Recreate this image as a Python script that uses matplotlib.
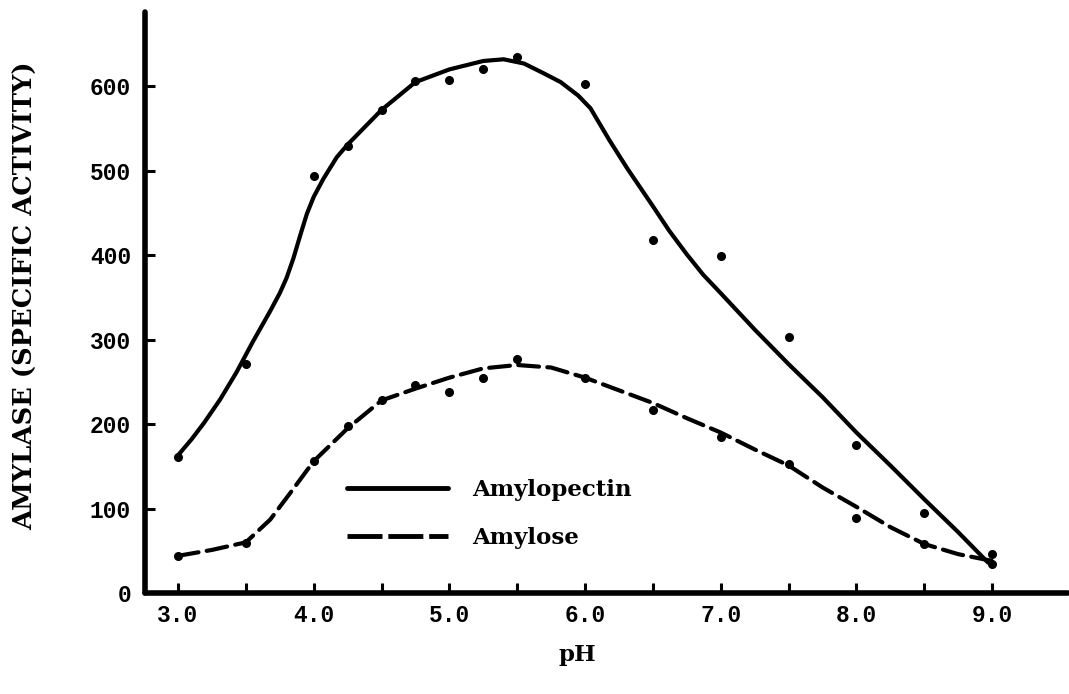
import matplotlib
matplotlib.use('Agg')
import matplotlib.pyplot as plt
from matplotlib.lines import Line2D

# measured points
ph_pts = [3.0, 3.5, 4.0, 4.25, 4.5, 4.75, 5.0, 5.25, 5.5, 6.0, 6.5, 7.0, 7.5, 8.0, 8.5, 9.0]
amylopectin_pts = [161, 271, 494, 529, 572, 606, 608, 620, 635, 603, 418, 399, 303, 175, 95, 46]
amylose_pts = [44, 59, 156, 198, 228, 246, 238, 255, 277, 255, 217, 185, 153, 89, 58, 34]

# hand drawn curves
ph_curve1 = [3.0, 3.1, 3.19, 3.31, 3.43, 3.55, 3.68, 3.75, 3.8, 3.85, 3.9, 3.95, 4.0, 4.07, 4.17,
             4.25, 4.5, 4.75, 5.0, 5.25, 5.4, 5.55, 5.7, 5.82, 5.95, 6.04, 6.18, 6.31, 6.5, 6.62,
             6.75, 6.87, 7.0, 7.25, 7.5, 7.75, 8.0, 8.25, 8.5, 8.75, 8.97]
amylopectin_curve = [163, 182, 201, 229, 261, 297, 334, 355, 373, 396, 423, 449, 469, 490, 516,
                     531, 572, 605, 620, 630, 632, 627, 615, 605, 589, 574, 536, 503, 458, 429,
                     401, 377, 355, 312, 271, 232, 190, 151, 111, 72, 36]

ph_curve2 = [3.0, 3.25, 3.5, 3.58, 3.68, 3.83, 4.0, 4.25, 4.5, 4.75, 5.0, 5.25, 5.5, 5.75, 6.0,
             6.25, 6.5, 6.75, 7.0, 7.25, 7.5, 7.75, 8.0, 8.25, 8.5, 8.75, 9.0]
amylose_curve = [44, 51, 60, 72, 87, 119, 156, 195, 228, 242, 255, 266, 270, 267, 255,
                 240, 225, 207, 190, 170, 151, 125, 102, 78, 58, 46, 38]

x_ticks = [3.0, 3.5, 4.0, 4.5, 5.0, 5.5, 6.0, 6.5, 7.0, 7.5, 8.0, 8.5, 9.0]
x_labels = ['3.0', '', '4.0', '', '5.0', '', '6.0', '', '7.0', '', '8.0', '', '9.0']
y_ticks = [0, 100, 200, 300, 400, 500, 600]

W, H = 1069, 694
fig = plt.figure(figsize=(W / 100, H / 100), dpi=100)
ax = fig.add_axes([145 / W, (H - 593) / H, (1068 - 145) / W, (593 - 12) / H])

ax.plot(ph_curve1, amylopectin_curve, color='black', lw=3, solid_capstyle='round', solid_joinstyle='round')
ax.plot(ph_curve2, amylose_curve, color='black', lw=3, linestyle=(0, (5, 2)), dash_capstyle='round')
ax.plot(ph_pts, amylopectin_pts, 'o', color='black', ms=5.5)
ax.plot(ph_pts, amylose_pts, 'o', color='black', ms=5.5)

ax.set_xlim(2.757, 9.559)
ax.set_ylim(0, 688)

for s in ['top', 'right']:
    ax.spines[s].set_visible(False)
for s in ['left', 'bottom']:
    ax.spines[s].set_linewidth(4)
    ax.spines[s].set_capstyle('round')

ax.set_xticks(x_ticks)
ax.set_xticklabels(x_labels)
ax.set_yticks(y_ticks)
ax.tick_params(direction='in', length=7, width=2.2, colors='black')
ax.tick_params(axis='x', pad=8)
ax.tick_params(axis='y', pad=10)
for lab in ax.get_xticklabels() + ax.get_yticklabels():
    lab.set_fontfamily('Liberation Mono')
    lab.set_fontweight('bold')
    lab.set_fontsize(16.5)

handles = [Line2D([], [], color='black', lw=3.5, solid_capstyle='round'),
           Line2D([], [], color='black', lw=3.5, linestyle=(0, (7.2, 1.2)))]
ax.legend(handles, ['Amylopectin', 'Amylose'], loc='upper left',
          bbox_to_anchor=(347 / W, 1 - 479 / H), bbox_transform=fig.transFigure,
          frameon=False, borderpad=0, borderaxespad=0, handlelength=4.4,
          handletextpad=1.05, labelspacing=1.12,
          prop={'family': 'DejaVu Serif', 'weight': 'bold', 'size': 16.5})

fig.text(26 / W, 1 - 296 / H, 'AMYLASE (SPECIFIC ACTIVITY)', rotation=90, ha='center', va='center',
         family='DejaVu Serif', fontweight='bold', fontsize=18.5)
fig.text(577 / W, 1 - 655 / H, 'pH', ha='center', va='center',
         family='DejaVu Serif', fontweight='bold', fontsize=16.5)

fig.savefig('out.png', dpi=100)
